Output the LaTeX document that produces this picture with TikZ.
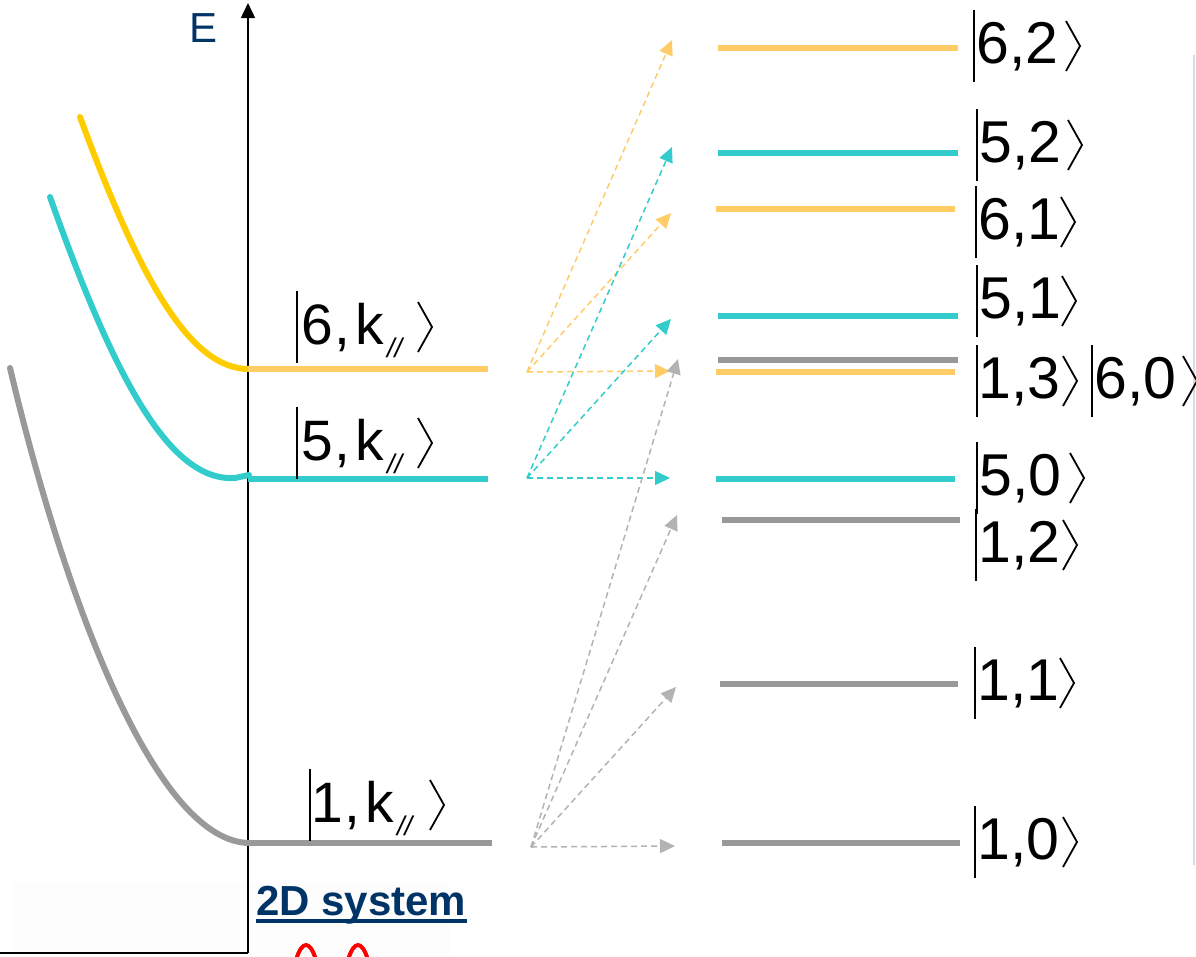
\documentclass[tikz,border=0pt]{standalone}
\usepackage{fontspec}
\setmainfont{Liberation Sans}
\usetikzlibrary{arrows.meta,calc}
\definecolor{gold}{HTML}{FFCC00}
\definecolor{ylw}{HTML}{FFCC66}
\definecolor{cyn}{HTML}{33CCCC}
\definecolor{gry}{HTML}{999999}
\definecolor{lgry}{HTML}{B3B3B3}
\definecolor{navy}{HTML}{003366}
\definecolor{edgegray}{HTML}{D5DCE4}
\tikzset{
  kettext/.style={inner sep=0pt, font=\fontsize{59}{59}\selectfont},
  lkettext/.style={inner sep=0pt, font=\fontsize{57}{57}\selectfont},
  ketstroke/.style={line width=2.2pt, black},
  ketangle/.style={line width=1.8pt, black, line join=miter},
  curve/.style={line width=6pt, line cap=round},
  lev/.style={line width=6.5pt},
  trans/.style={line width=1.5pt, dash pattern=on 6pt off 4pt, -{Triangle[length=15pt,width=14pt]}},
}
\newcommand{\mket}[7]{%
  \node[#7, anchor=base west] (#1) at (#4, #3+17) {#5};
  \draw[ketstroke] (#2,#3-36) -- (#2,#3+36);
  \draw[ketangle] (#6,#3-25) -- (#6+14,#3) -- (#6,#3+25);
}
\newcommand{\kpar}{\kern3pt\raisebox{-13pt}{\fontsize{27}{27}\selectfont\itshape //}}
\begin{document}
\begin{tikzpicture}[x=1pt,y=-1pt]
\useasboundingbox (0,0) rectangle (1196,956);
\fill[black!0.8] (13,882) rectangle (450,956);
% axes
\coordinate (orig) at (248,953);
\coordinate (ytop) at (248,3);
\coordinate (xleft) at (0,953);
\draw[line width=1.5pt] (xleft) -- (orig);
\draw[line width=1.5pt, -{Triangle[length=15pt,width=14pt]}] (orig) -- (ytop);
\node[text=navy, inner sep=0pt, font=\fontsize{42}{42}\selectfont] (E) at (204,28) {E};
% right faint edge
\draw[edgegray, line width=1.5pt] (1194,55) -- (1194,865);
% dispersion curves
\draw[curve, gold] (80,117) .. controls (140,280) and (190,369) .. (249,369);
\draw[curve, cyn] (50,197) .. controls (115,380) and (170,482) .. (235,478) -- (249,475);
\draw[curve, gry] (10,368) .. controls (70,620) and (160,843) .. (250,843);
% left levels
\draw[lev, ylw] (248,369) -- (488,369);
\draw[lev, cyn] (248,479) -- (488,479);
\draw[lev, gry] (250,843) -- (492,843);
% right levels
\draw[lev, ylw] (718,48) -- (958,48);
\draw[lev, cyn] (718,153) -- (958,153);
\draw[lev, ylw] (716,209) -- (955,209);
\draw[lev, cyn] (718,316) -- (958,316);
\draw[lev, gry] (718,360) -- (958,360);
\draw[lev, ylw] (716,372) -- (955,372);
\draw[lev, cyn] (716,479) -- (955,479);
\draw[lev, gry] (722,520) -- (960,520);
\draw[lev, gry] (720,684) -- (958,684);
\draw[lev, gry] (722,843) -- (960,843);
% transitions
\coordinate (s6) at (527,372);
\coordinate (s5) at (527,478);
\coordinate (s1) at (531,847);
\coordinate (t62) at (672,40);
\coordinate (t61) at (671,213);
\coordinate (t60) at (670,371);
\coordinate (t52) at (672,147);
\coordinate (t51) at (671,319);
\coordinate (t50) at (670,478);
\coordinate (t13) at (678,359);
\coordinate (t12) at (677,515);
\coordinate (t11) at (676,687);
\coordinate (t10) at (675,846);
\draw[trans, ylw] (s6) -- (t62);
\draw[trans, ylw] (s6) -- (t61);
\draw[trans, ylw] (s6) -- (t60);
\draw[trans, cyn] (s5) -- (t52);
\draw[trans, cyn] (s5) -- (t51);
\draw[trans, cyn] (s5) -- (t50);
\draw[trans, lgry] (s1) -- (t13);
\draw[trans, lgry] (s1) -- (t12);
\draw[trans, lgry] (s1) -- (t11);
\draw[trans, lgry] (s1) -- (t10);
% left kets
\mket{k6}{297}{327}{301}{6\kern2pt,\kern5pt k\kpar}{418}{lkettext}
\mket{k5}{297}{443}{301}{5\kern2pt,\kern5pt k\kpar}{418}{lkettext}
\mket{k1}{310}{805}{311}{1\kern2pt,\kern5pt k\kpar}{430}{lkettext}
% right kets
\mket{r62}{974}{46}{976}{6,2}{1066}{kettext}
\mket{r52}{977}{145}{979}{5,2}{1068}{kettext}
\mket{r61}{976}{222}{978}{6,1}{1061}{kettext}
\mket{r51}{977}{301}{979}{5,1}{1062}{kettext}
\mket{r13}{977}{381}{978}{1,3}{1063}{kettext}
\mket{r60}{1092}{381}{1094}{6,0}{1183}{kettext}
\mket{r50}{977}{478}{979}{5,0}{1070}{kettext}
\mket{r12}{976}{545}{978}{1,2}{1063}{kettext}
\mket{r11}{975}{683}{977}{1,1}{1060}{kettext}
\mket{r10}{975}{842}{977}{1,0}{1063}{kettext}
% 2D system
\node[text=navy, inner sep=0pt, anchor=base west, font=\bfseries\fontsize{42}{42}\selectfont] (sys) at (256,915) {2D system};
\draw[navy, line width=4pt] ([yshift=-6pt]sys.base west) -- ([yshift=-6pt]sys.base east);
% red peaks
\draw[red, line width=4pt, line join=round] (296,960) .. controls (302,940) and (310,940) .. (316,960);
\draw[red, line width=4pt, line join=round] (348,960) .. controls (354,940) and (362,940) .. (368,960);
\end{tikzpicture}
\end{document}
